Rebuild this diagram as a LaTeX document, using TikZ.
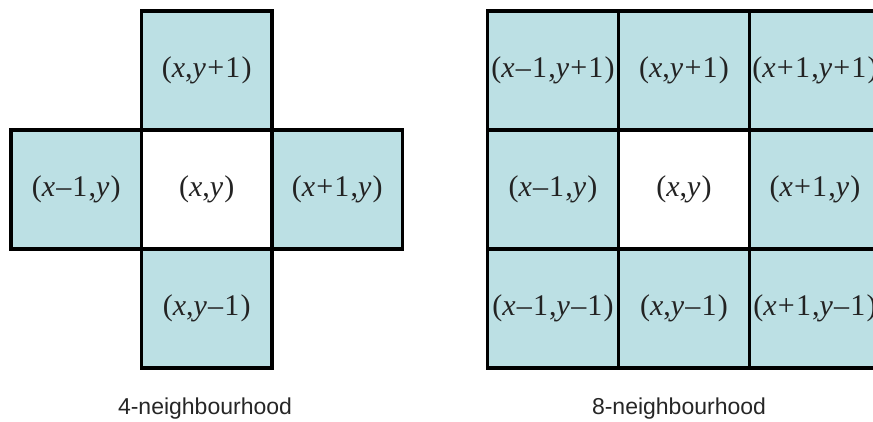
\documentclass[tikz,border=0pt]{standalone}
\usepackage{fontspec}
\setmainfont{Liberation Serif}
\newfontfamily\labelfont{Liberation Sans}
\newfontfamily\cellfont[LetterSpace=4]{Liberation Serif}
\definecolor{cellblue}{RGB}{188,224,228}
\definecolor{txt}{RGB}{35,35,35}
\begin{document}
\begin{tikzpicture}[x=1pt,y=-1pt,
  cellL/.style={draw=black, line width=3.5pt, fill=cellblue, minimum width=130.5pt, minimum height=119pt,
    inner sep=0pt, outer sep=0pt, font=\cellfont\fontsize{30}{36}\selectfont, text=txt},
  cellR/.style={cellL, minimum width=131pt},
  centre/.style={fill=white},
  caption/.style={font=\labelfont\fontsize{23}{28}\selectfont, text=black!85, anchor=base}]
\useasboundingbox (0,0) rectangle (873,421);
\clip (0,0) rectangle (873,421);
% 4-neighbourhood
\node[cellL] (lt) at (206.75,70.5) {(\textit{x},\textit{y}+1)};
\node[cellL] (ll) at (76.25,189.5) {(\textit{x}–1,\textit{y})};
\node[cellL,centre] (lc) at (206.75,189.5) {(\textit{x},\textit{y})};
\node[cellL] (lr) at (337.25,189.5) {(\textit{x}+1,\textit{y})};
\node[cellL] (lb) at (206.75,308.5) {(\textit{x},\textit{y}–1)};
\node[caption] (cap4) at (205,414) {4-neighbourhood};
% 8-neighbourhood
\node[cellR] (r11) at (553,70.5) {(\textit{x}–1,\textit{y}+1)};
\node[cellR] (r12) at (684,70.5) {(\textit{x},\textit{y}+1)};
\node[cellR] (r13) at (815,70.5) {(\textit{x}+1,\textit{y}+1)};
\node[cellR] (r21) at (553,189.5) {(\textit{x}–1,\textit{y})};
\node[cellR,centre] (r22) at (684,189.5) {(\textit{x},\textit{y})};
\node[cellR] (r23) at (815,189.5) {(\textit{x}+1,\textit{y})};
\node[cellR] (r31) at (553,308.5) {(\textit{x}–1,\textit{y}–1)};
\node[cellR] (r32) at (684,308.5) {(\textit{x},\textit{y}–1)};
\node[cellR] (r33) at (815,308.5) {(\textit{x}+1,\textit{y}–1)};
\node[caption] (cap8) at (679,414) {8-neighbourhood};
\end{tikzpicture}
\end{document}
